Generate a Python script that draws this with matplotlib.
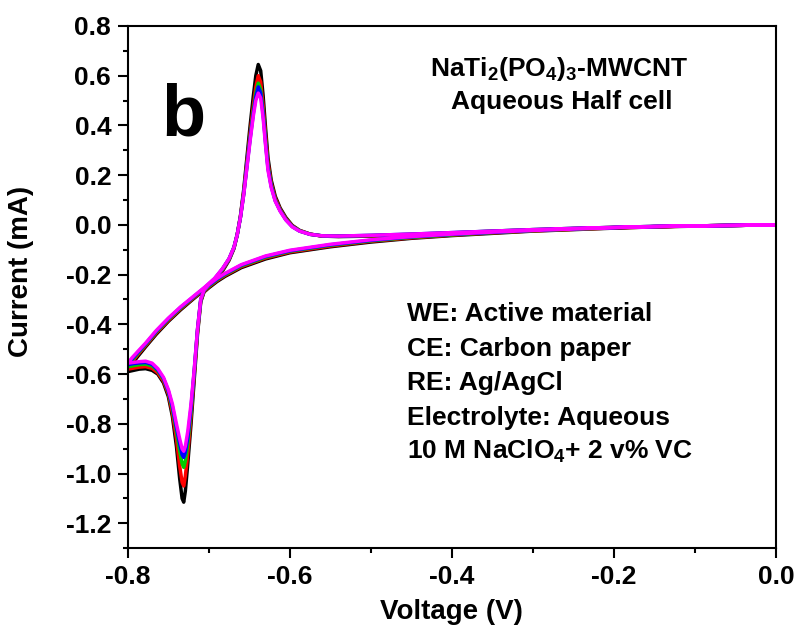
import matplotlib
matplotlib.use("Agg")
import matplotlib.pyplot as plt
from matplotlib.ticker import MultipleLocator

plt.rcParams['font.family'] = ['Liberation Sans', 'DejaVu Sans']
plt.rcParams['font.weight'] = 'bold'
plt.rcParams['mathtext.fontset'] = 'custom'
plt.rcParams['mathtext.rm'] = 'Liberation Sans:bold'
plt.rcParams['mathtext.bf'] = 'Liberation Sans:bold'
plt.rcParams['mathtext.it'] = 'Liberation Sans:bold'
plt.rcParams['mathtext.default'] = 'bf'

# voltage path of one cycle: 0 V -> -0.8 V (cathodic) -> 0 V (anodic)
voltage = [
    0.00, -0.05, -0.10, -0.15, -0.20, -0.25, -0.30, -0.35, -0.40, -0.45,
    -0.50, -0.55, -0.60, -0.63, -0.66, -0.68, -0.69, -0.70, -0.706, -0.710,
    -0.714, -0.718, -0.722, -0.726, -0.729, -0.731, -0.733, -0.736, -0.740, -0.745,
    -0.750, -0.756, -0.763, -0.770, -0.778, -0.786, -0.793, -0.800,
    -0.795, -0.788, -0.778, -0.765, -0.750, -0.735, -0.720, -0.705, -0.693, -0.683,
    -0.675, -0.669, -0.665, -0.661, -0.657, -0.653, -0.649, -0.645, -0.642, -0.639,
    -0.636, -0.633, -0.630, -0.627, -0.623, -0.618, -0.612, -0.605, -0.597, -0.588,
    -0.575, -0.56, -0.54, -0.50, -0.45, -0.40, -0.35, -0.30, -0.25, -0.20,
    -0.15, -0.10, -0.05, 0.00,
]

# current (mA) for each cycle
cycle_black = [
    0.000, -0.002, -0.005, -0.008, -0.013, -0.019, -0.025, -0.034, -0.043, -0.054,
    -0.069, -0.088, -0.112, -0.137, -0.172, -0.207, -0.228, -0.253, -0.270, -0.310,
    -0.440, -0.620, -0.800, -0.960, -1.070, -1.115, -1.100, -1.020, -0.890, -0.770,
    -0.690, -0.635, -0.600, -0.585, -0.578, -0.580, -0.585, -0.590,
    -0.560, -0.530, -0.490, -0.440, -0.388, -0.342, -0.300, -0.260, -0.225, -0.185,
    -0.142, -0.095, -0.040, 0.035, 0.140, 0.270, 0.400, 0.520, 0.600, 0.645,
    0.620, 0.520, 0.390, 0.270, 0.180, 0.115, 0.068, 0.030, -0.002, -0.022,
    -0.037, -0.045, -0.047, -0.045, -0.040, -0.034, -0.027, -0.021, -0.015, -0.011,
    -0.007, -0.004, -0.002, 0.000,
]
cycle_red = [
    0.000, -0.002, -0.004, -0.008, -0.012, -0.018, -0.024, -0.032, -0.041, -0.052,
    -0.066, -0.085, -0.109, -0.133, -0.168, -0.203, -0.224, -0.249, -0.268, -0.305,
    -0.430, -0.600, -0.770, -0.920, -1.010, -1.050, -1.035, -0.970, -0.860, -0.755,
    -0.680, -0.628, -0.595, -0.577, -0.570, -0.572, -0.576, -0.580,
    -0.552, -0.523, -0.485, -0.435, -0.384, -0.338, -0.297, -0.257, -0.222, -0.181,
    -0.139, -0.093, -0.040, 0.033, 0.130, 0.250, 0.370, 0.480, 0.555, 0.600,
    0.575, 0.480, 0.360, 0.250, 0.168, 0.107, 0.063, 0.026, -0.004, -0.023,
    -0.037, -0.045, -0.046, -0.044, -0.039, -0.033, -0.026, -0.020, -0.015, -0.010,
    -0.007, -0.004, -0.002, 0.000,
]
cycle_green = [
    0.000, -0.002, -0.004, -0.007, -0.011, -0.017, -0.023, -0.031, -0.040, -0.050,
    -0.064, -0.082, -0.106, -0.130, -0.165, -0.200, -0.221, -0.246, -0.265, -0.302,
    -0.425, -0.590, -0.750, -0.880, -0.950, -0.975, -0.960, -0.910, -0.830, -0.740,
    -0.672, -0.620, -0.587, -0.567, -0.560, -0.562, -0.566, -0.570,
    -0.545, -0.518, -0.481, -0.431, -0.380, -0.335, -0.294, -0.254, -0.219, -0.178,
    -0.137, -0.091, -0.040, 0.031, 0.125, 0.240, 0.355, 0.460, 0.530, 0.570,
    0.545, 0.455, 0.340, 0.235, 0.160, 0.100, 0.059, 0.023, -0.006, -0.024,
    -0.038, -0.044, -0.045, -0.043, -0.038, -0.032, -0.025, -0.019, -0.014, -0.010,
    -0.006, -0.004, -0.002, 0.000,
]
cycle_blue = [
    0.000, -0.002, -0.004, -0.007, -0.011, -0.016, -0.022, -0.030, -0.038, -0.048,
    -0.062, -0.080, -0.104, -0.127, -0.162, -0.197, -0.218, -0.243, -0.263, -0.300,
    -0.420, -0.585, -0.735, -0.855, -0.915, -0.935, -0.925, -0.880, -0.815, -0.730,
    -0.668, -0.617, -0.583, -0.561, -0.553, -0.555, -0.558, -0.562,
    -0.540, -0.514, -0.478, -0.428, -0.377, -0.332, -0.292, -0.252, -0.217, -0.176,
    -0.136, -0.090, -0.040, 0.030, 0.122, 0.235, 0.347, 0.450, 0.515, 0.555,
    0.530, 0.445, 0.330, 0.228, 0.155, 0.097, 0.057, 0.021, -0.007, -0.025,
    -0.038, -0.044, -0.045, -0.042, -0.037, -0.031, -0.025, -0.019, -0.014, -0.010,
    -0.006, -0.004, -0.002, 0.000,
]
cycle_magenta = [
    0.000, -0.002, -0.004, -0.007, -0.011, -0.016, -0.022, -0.029, -0.037, -0.047,
    -0.060, -0.078, -0.102, -0.125, -0.160, -0.195, -0.215, -0.240, -0.262, -0.300,
    -0.420, -0.580, -0.720, -0.830, -0.890, -0.910, -0.900, -0.860, -0.800, -0.720,
    -0.662, -0.613, -0.578, -0.556, -0.548, -0.550, -0.553, -0.556,
    -0.535, -0.510, -0.475, -0.425, -0.375, -0.330, -0.290, -0.250, -0.215, -0.175,
    -0.135, -0.090, -0.040, 0.030, 0.120, 0.230, 0.340, 0.440, 0.500, 0.530,
    0.510, 0.430, 0.320, 0.220, 0.150, 0.095, 0.055, 0.020, -0.008, -0.025,
    -0.038, -0.044, -0.045, -0.042, -0.037, -0.031, -0.025, -0.019, -0.014, -0.010,
    -0.006, -0.004, -0.002, 0.000,
]

cycles = [cycle_black, cycle_red, cycle_green, cycle_blue, cycle_magenta]
colors = ['#000000', '#ff0000', '#00cc00', '#0000ff', '#ff00ff']

fig = plt.figure(figsize=(7.99, 6.33), dpi=100)
ax = fig.add_axes([0.160, 0.134, 0.811, 0.825])

for cur, c in zip(cycles, colors):
    ax.plot(voltage, cur, color=c, linewidth=2.5)

ax.set_xlim(-0.8, 0.0)
ax.set_ylim(-1.3, 0.8)
ax.xaxis.set_minor_locator(MultipleLocator(0.1))
ax.yaxis.set_minor_locator(MultipleLocator(0.1))
ax.set_xticks([-0.8, -0.6, -0.4, -0.2, 0.0])
ax.set_xticklabels(['-0.8', '-0.6', '-0.4', '-0.2', '0.0'])
yt = [-1.2, -1.0, -0.8, -0.6, -0.4, -0.2, 0.0, 0.2, 0.4, 0.6, 0.8]
ax.set_yticks(yt)
ax.set_yticklabels(['%.1f' % v for v in yt])

ax.tick_params(which='major', direction='out', length=7, width=1.5,
               labelsize=19, pad=5)
ax.tick_params(which='minor', direction='out', length=3.5, width=1.5)
for s in ax.spines.values():
    s.set_linewidth(1.5)

ax.set_xlabel('Voltage (V)', fontsize=20, fontweight='bold', labelpad=7)
ax.set_ylabel('Current (mA)', fontsize=20, fontweight='bold')
ax.yaxis.set_label_coords(-0.145, 0.529)

ax.text(0.052, 0.791, 'b', transform=ax.transAxes, fontsize=52,
        fontweight='bold', va='baseline', ha='left')
ax.text(0.666, 0.904, r'NaTi$_2$(PO$_4$)$_3$-MWCNT', transform=ax.transAxes,
        fontsize=19, fontweight='bold', va='baseline', ha='center')
ax.text(0.670, 0.841, 'Aqueous Half cell', transform=ax.transAxes,
        fontsize=19, fontweight='bold', va='baseline', ha='center')

info = ['WE: Active material', 'CE: Carbon paper', 'RE: Ag/AgCl',
        'Electrolyte: Aqueous', r'10 M NaClO$_4$+ 2 v% VC']
base_y = [321, 356, 390, 425, 459]
for line, py in zip(info, base_y):
    ax.text(0.431, 1 - (py - 26) / 522, line, transform=ax.transAxes,
            fontsize=19, fontweight='bold', va='baseline', ha='left')

fig.savefig('out.png', dpi=100)
